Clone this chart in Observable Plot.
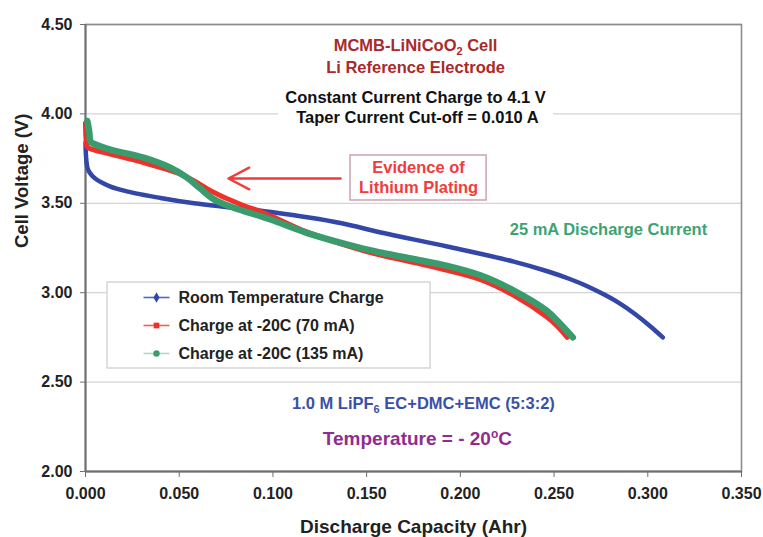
<!DOCTYPE html>
<html><head><meta charset="utf-8">
<script src="https://cdn.jsdelivr.net/npm/d3@7"></script>
<script src="https://cdn.jsdelivr.net/npm/@observablehq/plot@0.6"></script>
<style>
html,body{margin:0;padding:0;background:#fff;}
#chart{width:763px;height:537px;overflow:hidden;}
</style></head>
<body><div id="chart"></div>
<script>
// ---- data ----
const xTicks = [0, 0.05, 0.10, 0.15, 0.20, 0.25, 0.30, 0.35];
const yTicks = [2.0, 2.5, 3.0, 3.5, 4.0, 4.5];

const seriesNames = ["Room Temperature Charge", "Charge at -20C (70 mA)", "Charge at -20C (135 mA)"];

const roomX = [0, 0.0003, 0.001, 0.002, 0.005, 0.013, 0.022, 0.040, 0.058, 0.076, 0.100, 0.136, 0.157, 0.193, 0.2285, 0.2464, 0.258, 0.268, 0.277, 0.285, 0.293, 0.301, 0.308];
const roomV = [3.84, 3.76, 3.70, 3.675, 3.64, 3.595, 3.567, 3.53, 3.50, 3.478, 3.45, 3.39, 3.338, 3.258, 3.174, 3.12, 3.078, 3.035, 2.988, 2.94, 2.882, 2.815, 2.75];

const c70X = [0, 0.0003, 0.001, 0.004, 0.0133, 0.031, 0.049, 0.058, 0.0667, 0.0756, 0.085, 0.093, 0.100, 0.118, 0.145, 0.1574, 0.179, 0.193, 0.2115, 0.2285, 0.246, 0.252, 0.257];
const c70V = [3.95, 3.86, 3.815, 3.80, 3.775, 3.727, 3.67, 3.625, 3.57, 3.525, 3.485, 3.455, 3.425, 3.34, 3.245, 3.21, 3.16, 3.125, 3.07, 2.985, 2.865, 2.81, 2.75];

const c135X = [0.001, 0.002, 0.0027, 0.005, 0.0133, 0.031, 0.045, 0.054, 0.061, 0.068, 0.075, 0.085, 0.093, 0.100, 0.118, 0.145, 0.1574, 0.179, 0.193, 0.211, 0.2285, 0.246, 0.252, 0.260];
const c135V = [3.96, 3.90, 3.845, 3.83, 3.80, 3.755, 3.70, 3.645, 3.585, 3.525, 3.49, 3.455, 3.43, 3.405, 3.335, 3.255, 3.225, 3.18, 3.15, 3.096, 3.012, 2.90, 2.84, 2.75];

// ---- styles ----
const colors = ["#3347a8", "#f0302a", "#3a9b6c"];
const widths = [4.5, 5, 6.5];
const font = "'Liberation Sans', Arial, sans-serif";

const rows = (xs, vs, s) => xs.map((x, i) => ({x, v: vs[i], s}));
const data = [
  ...rows(roomX, roomV, 0),
  ...rows(c70X, c70V, 1),
  ...rows(c135X, c135V, 2)
];

const legendRows = seriesNames.map((name, i) => ({name, i, v: [2.9732, 2.8166, 2.6600][i]}));

const chart = Plot.plot({
  width: 763, height: 537,
  marginLeft: 85, marginRight: 22, marginTop: 24, marginBottom: 66,
  style: {fontFamily: font, fontSize: "16px", fontWeight: "bold", color: "#222", background: "#fff", overflow: "visible"},
  x: {domain: [0, 0.35]},
  y: {domain: [2, 4.5]},
  marks: [
    Plot.gridY(yTicks, {stroke: "#d4d4d4", strokeOpacity: 1, strokeWidth: 1.3}),
    Plot.rect([0], {x1: 0.103, x2: 0.2497, y1: 3.90, y2: 4.175, fill: "white"}),
    Plot.frame({stroke: "#8c8c8c", strokeWidth: 1.6}),
    Plot.ruleX([0], {stroke: "#707070", strokeWidth: 2}),
    Plot.ruleY([2], {stroke: "#707070", strokeWidth: 2}),
    Plot.axisX(xTicks, {tickFormat: d3.format(".3f"), tickSize: 6, tickPadding: 10, stroke: "#707070", fill: "#222", fontSize: 16, label: null}),
    Plot.axisY(yTicks, {tickFormat: d3.format(".2f"), tickSize: 5, tickPadding: 8, stroke: "#707070", fill: "#222", fontSize: 16, label: null}),
    ...[0, 1, 2].map(k => Plot.line(data.filter(d => d.s === k), {
      x: "x", y: "v", stroke: colors[k], strokeWidth: widths[k], curve: "catmull-rom", strokeLinecap: "round", strokeLinejoin: "round"
    })),
    Plot.text(["MCMB-LiNiCoO₂ Cell", "Li Reference Electrode"], {x: 0.1761, y: [4.3826, 4.2595], fill: "#a82a2a", fontSize: 16.5}),
    Plot.text(["Constant Current Charge to 4.1 V", "Taper Current Cut-off = 0.010 A"], {x: [0.1761, 0.1771], y: [4.0917, 3.980], fill: "#111", fontSize: 16.5}),
    Plot.rect([0], {x1: 0.1414, x2: 0.2140, y1: 3.5157, y2: 3.7673, fill: "white", stroke: "#c9a3b5", strokeWidth: 1.5}),
    Plot.text(["Evidence of", "Lithium Plating"], {x: 0.1777, y: [3.7002, 3.5884], fill: "#f03c3c", fontSize: 16.5}),
    Plot.arrow([0], {x1: 0.1361, y1: 3.6387, x2: 0.0763, y2: 3.6387, stroke: "#f03c3c", strokeWidth: 2.5, headLength: 14, headAngle: 55}),
    Plot.text(["25 mA Discharge Current"], {x: 0.2790, y: 3.3535, fill: "#3ea373", fontSize: 16.5}),
    Plot.rect([0], {x1: 0.01174, x2: 0.1841, y1: 2.5761, y2: 3.0571, fill: "white", stroke: "#cfcfcf", strokeWidth: 1.3}),
    Plot.link(legendRows, {x1: 0.03095, x2: 0.04482, y1: "v", y2: "v", stroke: d => ["#5566c0", "#f06058", "#b0dcc0"][d.i], strokeWidth: 1.6}),
    Plot.dot(legendRows, {x: 0.03788, y: "v", symbol: d => ["diamond", "square", "circle"][d.i], fill: d => colors[d.i], r: 3.2}),
    Plot.text(legendRows, {x: 0.04962, y: "v", text: "name", textAnchor: "start", fill: "#222", fontSize: 16}),
    Plot.text(["1.0 M LiPF₆ EC+DMC+EMC (5:3:2)"], {x: 0.1803, y: 2.3803, fill: "#3a50a8", fontSize: 16.5}),
    Plot.text(["Temperature = - 20°C"], {x: 0.1771, y: 2.1846, fill: "#8e2d8e", fontSize: 19}),
    Plot.text(["Discharge Capacity (Ahr)"], {frameAnchor: "bottom", dy: 61, fill: "#222", fontSize: 19}),
    Plot.text(["Cell Voltage (V)"], {frameAnchor: "left", dx: -63, rotate: -90, fill: "#222", fontSize: 18.5})
  ]
});

// real subscripts / superscripts (pixel offsets so the baseline returns exactly)
d3.select(chart).selectAll("text").each(function () {
  const t = this.textContent;
  const sub = {"₂": "2", "₆": "6"};
  const key = Object.keys(sub).find(k => t.includes(k));
  const el = d3.select(this);
  if (key) {
    const [a, b] = t.split(key);
    el.text(null);
    el.append("tspan").text(a);
    el.append("tspan").attr("dy", 4).attr("font-size", 11).text(sub[key]);
    el.append("tspan").attr("dy", -4).text(b);
  } else if (t.includes("°C")) {
    const [a, b] = t.split("°");
    el.text(null);
    el.append("tspan").text(a);
    el.append("tspan").attr("dy", -7).attr("font-size", 12).text("o");
    el.append("tspan").attr("dy", 7).text(b);
  }
});
document.getElementById("chart").append(chart);
</script>
</body></html>
